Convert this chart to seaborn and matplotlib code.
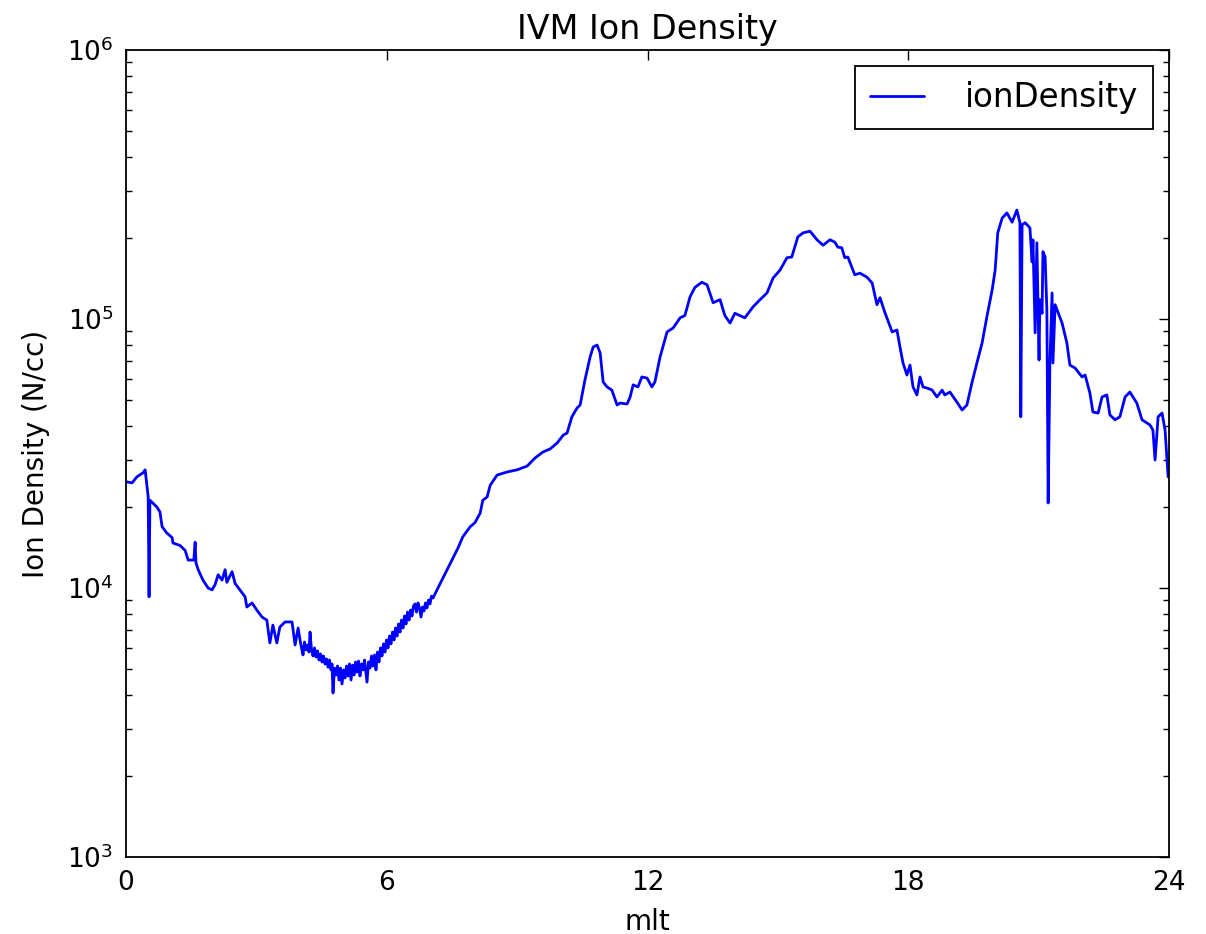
import matplotlib
matplotlib.use("Agg")
import matplotlib.pyplot as plt
import seaborn as sns
import pandas as pd

# Ion density from the IVM instrument versus magnetic local time
mlt = [
    0.02, 0.14, 0.25, 0.39, 0.44, 0.51, 0.53, 0.55, 0.71, 0.78,
    0.83, 0.94, 1.06, 1.08, 1.24, 1.36, 1.43, 1.56, 1.59, 1.61,
    1.66, 1.77, 1.89, 1.98, 2.05, 2.12, 2.21, 2.28, 2.32, 2.44,
    2.51, 2.62, 2.74, 2.78, 2.90, 3.01, 3.13, 3.24, 3.31, 3.38,
    3.47, 3.54, 3.66, 3.82, 3.89, 3.96,
    4.004, 4.038, 4.073, 4.107, 4.142, 4.176, 4.211, 4.234, 4.268, 4.303,
    4.337, 4.372, 4.406, 4.441, 4.475, 4.510, 4.544, 4.579, 4.613, 4.648,
    4.682, 4.717, 4.740, 4.763, 4.797, 4.832, 4.867, 4.901, 4.936, 4.970,
    5.005, 5.039, 5.074, 5.108, 5.143, 5.177, 5.212, 5.246, 5.281, 5.315,
    5.350, 5.384, 5.419, 5.453, 5.488, 5.522, 5.545, 5.580, 5.614, 5.649,
    5.683, 5.718, 5.752, 5.787, 5.821, 5.856, 5.890, 5.925, 5.959, 5.994,
    6.028, 6.063, 6.097, 6.132, 6.167, 6.201, 6.236, 6.270, 6.305, 6.339,
    6.374, 6.408, 6.443, 6.477, 6.512, 6.546, 6.581, 6.615, 6.650, 6.684,
    6.719, 6.753, 6.788, 6.822, 6.857, 6.891, 6.926, 6.960, 6.995, 7.029,
    7.064,
    7.23, 7.39, 7.50, 7.64, 7.75, 7.92,
    8.03, 8.15, 8.21, 8.31, 8.38, 8.54, 8.77, 9.00, 9.23, 9.41,
    9.59, 9.76, 9.92, 10.06, 10.15, 10.26, 10.38, 10.45, 10.56, 10.68,
    10.75, 10.84, 10.91, 10.98, 11.07, 11.18, 11.30, 11.37, 11.53, 11.60,
    11.67, 11.78, 11.87, 11.99, 12.10, 12.17, 12.29, 12.45, 12.59, 12.75,
    12.86, 12.98, 13.09, 13.25, 13.37, 13.51, 13.67, 13.78, 13.90, 14.01,
    14.24, 14.43, 14.59, 14.75, 14.89, 15.05, 15.21, 15.32, 15.46, 15.58,
    15.74, 15.90, 16.04, 16.20, 16.31, 16.38, 16.47, 16.54, 16.61, 16.77,
    16.89, 17.05, 17.17, 17.28, 17.35, 17.46, 17.63, 17.74, 17.81, 17.88,
    17.97, 18.04, 18.11, 18.20, 18.27, 18.34, 18.43, 18.55, 18.66, 18.78,
    18.84, 18.96, 19.12, 19.24, 19.35, 19.47, 19.58, 19.70, 19.81, 19.93,
    20.00, 20.06, 20.16, 20.27, 20.39, 20.50, 20.57, 20.59, 20.62, 20.69,
    20.80, 20.85, 20.87, 20.92, 20.96, 21.01, 21.03, 21.08, 21.10, 21.15,
    21.19, 21.22, 21.26, 21.31, 21.33, 21.38, 21.54, 21.65, 21.72, 21.84,
    22.00, 22.07, 22.18, 22.25, 22.37, 22.46, 22.57, 22.64, 22.76, 22.87,
    22.99, 23.10, 23.26, 23.38, 23.56, 23.63, 23.68, 23.75, 23.84, 23.91,
    23.98,
]

ion_density = [
    24800, 24600, 25900, 26800, 27500, 21800, 9270, 21200, 20000, 19200,
    16900, 16000, 15400, 14700, 14400, 13800, 12700, 12700, 14800, 12400,
    11700, 10700, 10000, 9840, 10300, 11200, 10700, 11700, 10500, 11500,
    10400, 9840, 9270, 8500, 8800, 8280, 7800, 7600, 6250, 7280,
    6250, 7160, 7480, 7480, 6140, 7100,
    6410, 5990, 5640, 6300, 5890, 6140, 5780, 6860, 5890, 5590,
    5990, 5540, 5840, 5400, 5690, 5310, 5590, 5220, 5450, 5080,
    5400, 4960, 5220, 4070, 5040, 4750, 5130, 4550, 5040, 4400,
    4960, 4630, 5130, 4710, 5220, 4550, 5170, 4750, 5310, 4870,
    5350, 4710, 5220, 4960, 5400, 4830, 4470, 5310, 5040, 5590,
    5130, 5640, 4960, 5780, 5310, 5990, 5590, 6200, 5780, 6410,
    5990, 6630, 6200, 6860, 6410, 7100, 6630, 7350, 6860, 7600,
    7100, 7870, 7350, 8140, 7600, 8280, 7870, 8570, 8730, 8140,
    8800, 8430, 7800, 8500, 8210, 8800, 8430, 9020, 8730, 9330,
    9180,
    10400, 11700, 12700, 14100, 15500, 16900,
    17500, 19000, 21200, 21800, 24100, 26300, 27000, 27500, 28400, 30400,
    32000, 32900, 34600, 37000, 37700, 43300, 46700, 47900, 59300, 72300,
    78700, 80000, 74800, 58300, 55900, 54400, 47900, 48700, 48300, 51300,
    56900, 55900, 60900, 60300, 55900, 58300, 72300, 89500, 92600, 101000,
    103000, 121000, 131000, 137000, 134000, 115000, 118000, 103000, 96600, 105000,
    101000, 111000, 118000, 125000, 142000, 152000, 169000, 170000, 202000, 209000,
    212000, 197000, 188000, 197000, 193000, 185000, 184000, 169000, 170000, 146000,
    148000, 143000, 136000, 113000, 120000, 106000, 89500, 91000, 78700, 68600,
    61900, 67400, 55900, 52200, 60900, 55900, 55400, 54400, 51300, 54400,
    52200, 53500, 49100, 45900, 47900, 58300, 68600, 81500, 102000, 128000,
    152000, 209000, 237000, 248000, 229000, 254000, 228000, 43300, 224000, 228000,
    218000, 163000, 197000, 88800, 192000, 70400, 118000, 105000, 178000, 170000,
    108000, 20700, 68600, 125000, 68600, 113000, 96600, 81500, 67400, 65700,
    60900, 61900, 53100, 45100, 44700, 51300, 52200, 44000, 42200, 43300,
    51300, 53500, 48700, 42200, 40400, 38700, 29900, 43300, 44700, 38700,
    25900,
]

x_ticks = [0, 6, 12, 18, 24]

df = pd.DataFrame({"mlt": mlt, "ionDensity": ion_density})

sns.set_style("white")
plt.rcParams["font.family"] = ["DejaVu Sans"]
plt.rcParams.update({
    "text.color": "black",
    "axes.labelcolor": "black",
    "xtick.direction": "in",
    "ytick.direction": "in",
    "xtick.top": True,
    "ytick.right": True,
    "xtick.major.size": 7,
    "ytick.major.size": 7,
    "ytick.minor.size": 4,
    "xtick.major.width": 1.0,
    "ytick.major.width": 1.0,
    "ytick.minor.width": 1.0,
    "xtick.color": "black",
    "ytick.color": "black",
    "xtick.labelcolor": "black",
    "ytick.labelcolor": "black",
    "axes.edgecolor": "black",
    "axes.linewidth": 1.3,
})

fig = plt.figure(figsize=(12.06, 9.34), dpi=100)
ax = fig.add_axes([0.1045, 0.0824, 0.8648, 0.8641])

sns.lineplot(data=df, x="mlt", y="ionDensity", color="blue", linewidth=2.0,
             estimator=None, sort=False, label="ionDensity", ax=ax)

ax.set_yscale("log")
ax.set_ylim(1e3, 1e6)
ax.set_xlim(0, 24)
ax.set_xticks(x_ticks)
ax.tick_params(axis="both", which="major", labelsize=19, pad=9)
ax.tick_params(axis="y", which="minor", left=True, right=True)

ax.set_title("IVM Ion Density", fontsize=24, pad=8)
ax.set_xlabel("mlt", fontsize=20, labelpad=9)
ax.set_ylabel("Ion Density (N/cc)", fontsize=20, labelpad=12)

leg = ax.legend(loc="upper right", fontsize=23.5, fancybox=False, framealpha=1,
                handlelength=1.65, handletextpad=1.25, borderpad=0.45,
                borderaxespad=0.5)
leg.get_frame().set_edgecolor("black")
leg.get_frame().set_linewidth(1.3)

fig.savefig("out.png", dpi=100, facecolor="white")
